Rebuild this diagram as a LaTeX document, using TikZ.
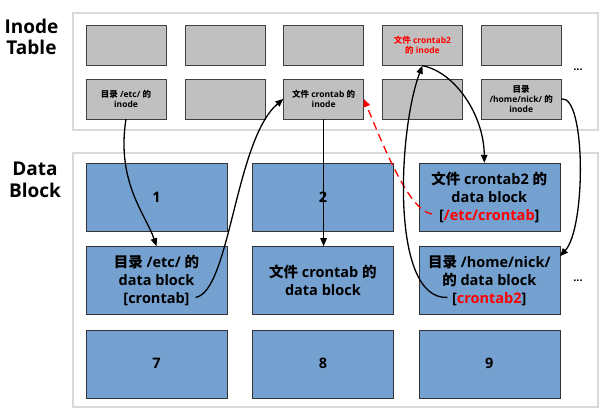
\documentclass[tikz,border=0pt]{standalone}
\usepackage{fontspec}
\setmainfont{Open Sans}
\newfontfamily\zhfont{Noto Sans CJK SC}
\newcommand{\zh}[1]{{\zhfont #1}}
\usepackage{tikz}
\usetikzlibrary{calc,positioning,arrows.meta}
\definecolor{blockblue}{RGB}{117,161,208}
\definecolor{inodegray}{RGB}{192,192,192}
\definecolor{panelgray}{RGB}{217,217,217}
\tikzstyle{inode} = [draw=black!75, fill=inodegray, minimum width=80pt, minimum height=40pt, inner sep=0, align=center, font=\fontsize{8.5}{10}\selectfont\bfseries]
\tikzstyle{block} = [draw=black!80, fill=blockblue, minimum width=141pt, minimum height=68pt, inner sep=0, align=center, font=\fontsize{14.5}{18}\selectfont\bfseries]
\tikzstyle{panel} = [draw=panelgray, fill=white, line width=1.2pt]
\tikzstyle{title} = [align=center, font=\fontsize{19}{21.5}\selectfont\bfseries]
\tikzstyle{dots} = [font=\fontsize{11}{11}\selectfont\bfseries]
\tikzstyle{link} = [-{Triangle[length=8pt,width=6.5pt]}, line width=1.3pt]
\tikzset{x=1pt, y=-1pt, node distance=18.4pt}

\begin{document}
\begin{tikzpicture}
\useasboundingbox (0,0) rectangle (610,418);
\draw[panel] (73,13) rectangle (598,130);
\draw[panel] (73,153) rectangle (598,407);
\node[title] (itab) at (31.5,37) {Inode\\Table};
\node[title] (dtab) at (35,180) {Data\\Block};

% inode table
\node[inode] (i11) at (126,45.5) {};
\node[inode, right=of i11] (i12) {};
\node[inode, right=of i12] (i13) {};
\node[inode, right=of i13, text=red] (i14) {\zh{文件} crontab2\\\zh{的} inode};
\node[inode, right=of i14] (i15) {};

\node[inode, below=13pt of i11] (i21) {\zh{目录} /etc/ \zh{的}\\inode};
\node[inode, right=of i21] (i22) {};
\node[inode, right=of i22] (i23) {\zh{文件} crontab \zh{的}\\inode};
\node[inode, right=of i23] (i24) {};
\node[inode, right=of i24] (i25) {\zh{目录}\\/home/nick/ \zh{的}\\inode};

\node[dots] (dots1) at (578,70) {...};

% data blocks
\node[block] (d11) at (156.5,197) {1};
\node[block, right=25pt of d11] (d12) {2};
\node[block, right=25pt of d12] (d13) {\zh{文件} crontab2 \zh{的}\\data block\\{[}\textcolor{red}{/etc/crontab}{]}};

\node[block, below=15pt of d11] (d21) {\zh{目录} /etc/ \zh{的}\\data block\\{[}crontab{]}};
\node[block, right=25pt of d21] (d22) {\zh{文件} crontab \zh{的}\\data block};
\node[block, right=25pt of d22] (d23) {\zh{目录} /home/nick/\\\zh{的} data block\\{[}\textcolor{red}{crontab2}{]}};

\node[block, below=15pt of d21] (d31) {7};
\node[block, right=25pt of d31] (d32) {8};
\node[block, right=25pt of d32] (d33) {9};

\node[dots] (dots2) at (578,281) {...};

\coordinate (crontab1) at ($(d21.center)+(39,17)$);
\coordinate (etcref) at ($(d13.center)+(-57,17)$);
\coordinate (crontab2) at ($(d23.center)+(-42,17)$);
\coordinate (d13in) at ($(d13.north)+(-5,0)$);
\coordinate (d23in) at ($(d23.north east)+(0,10)$);

\draw[link] (i21.south) .. controls (116,182) and (146,215) .. (d21.north);
\draw[link] (crontab1) .. controls (230,292) and (235,140) .. (i23.west);
\draw[link] (i23.south) -- (i23.south |- d22.north);
\draw[link, red, dash pattern=on 8pt off 5pt] (etcref) .. controls (410,212) and (385,150) .. (i23.east);
\draw[link] (crontab2) .. controls (390,300) and (398,130) .. (i14.south);
\draw[link] (i14.south) .. controls (455,72) and (484,115) .. (d13in);
\draw[link] (i25.east) .. controls (586,95) and (586,228) .. (d23in);
\end{tikzpicture}
\end{document}
